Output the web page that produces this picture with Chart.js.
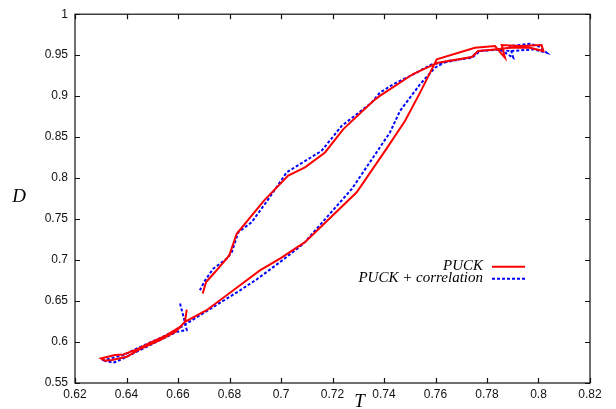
<!DOCTYPE html>
<html>
<head>
<meta charset="utf-8">
<script src="https://cdn.jsdelivr.net/npm/chart.js@4"></script>
<style>
  html, body { margin: 0; padding: 0; background: #fff; }
  #wrap { width: 616px; height: 409px; }
</style>
</head>
<body>
<div id="wrap"><canvas id="loopChart" width="616" height="409"></canvas></div>
<script>
// PUCK (red, solid) - path along the loop
const puckT = [0.6634, 0.6627, 0.6592, 0.6530, 0.6452, 0.6401, 0.6343, 0.6317, 0.6301, 0.6355,
  0.6388, 0.6440, 0.6491, 0.6556, 0.6608, 0.6627, 0.6711, 0.6841, 0.6918, 0.6996,
  0.7093, 0.7294, 0.7410, 0.7482, 0.7540, 0.7605, 0.7753, 0.7831, 0.7870, 0.7857,
  0.7928, 0.8012, 0.8019, 0.7967, 0.7889, 0.7831, 0.7766, 0.7741, 0.7610, 0.7579,
  0.7513, 0.7384, 0.7358, 0.7242, 0.7171, 0.7093, 0.7028, 0.6934, 0.6828, 0.6799,
  0.6744, 0.6709, 0.6696];
const puckD = [0.6396, 0.6246, 0.6130, 0.6023, 0.5913, 0.5820, 0.5780, 0.5771, 0.5800, 0.5841,
  0.5849, 0.5910, 0.5990, 0.6084, 0.6185, 0.6246, 0.6388, 0.6692, 0.6874, 0.7017,
  0.7218, 0.7827, 0.8360, 0.8699, 0.9043, 0.9449, 0.9590, 0.9611, 0.9468, 0.9623,
  0.9611, 0.9623, 0.9550, 0.9590, 0.9590, 0.9570, 0.9550, 0.9477, 0.9408, 0.9367,
  0.9270, 0.9003, 0.8942, 0.8598, 0.8313, 0.8131, 0.8030, 0.7726, 0.7321, 0.7057,
  0.6854, 0.6732, 0.6591];

// PUCK + correlation (blue, dotted)
const corrT = [0.6608, 0.6623, 0.6634, 0.6595, 0.6530, 0.6452, 0.6388, 0.6349, 0.6304, 0.6323,
  0.6388, 0.6452, 0.6530, 0.6592, 0.6698, 0.6841, 0.6906, 0.6996, 0.7087, 0.7275,
  0.7423, 0.7462, 0.7540, 0.7598, 0.7644, 0.7741, 0.7773, 0.7850, 0.7902, 0.7889,
  0.7967, 0.7999, 0.8032, 0.7980, 0.7889, 0.7838, 0.7766, 0.7741, 0.7644, 0.7585,
  0.7514, 0.7436, 0.7384, 0.7352, 0.7236, 0.7158, 0.7022, 0.6947, 0.6886, 0.6834,
  0.6809, 0.6789, 0.6737, 0.6705, 0.6685];
const corrD = [0.6469, 0.6290, 0.6145, 0.6124, 0.6023, 0.5901, 0.5800, 0.5747, 0.5780, 0.5788,
  0.5841, 0.5938, 0.6047, 0.6145, 0.6351, 0.6631, 0.6765, 0.6975, 0.7199, 0.7868,
  0.8556, 0.8820, 0.9145, 0.9347, 0.9428, 0.9468, 0.9550, 0.9570, 0.9468, 0.9611,
  0.9639, 0.9611, 0.9529, 0.9570, 0.9550, 0.9570, 0.9550, 0.9477, 0.9416, 0.9388,
  0.9267, 0.9145, 0.9043, 0.8921, 0.8638, 0.8334, 0.8070, 0.7726, 0.7462, 0.7340,
  0.7097, 0.7017, 0.6895, 0.6753, 0.6631];

const seriesNames = ["PUCK", "PUCK + correlation"];
const xTitle = "T";
const yTitle = "D";

function toPoints(xs, ys) {
  return xs.map((x, i) => ({ x: x, y: ys[i] }));
}

function fmt(v) {
  return Number(v.toFixed(2)).toString();
}

// gnuplot-like frame: full box, inward ticks, inline legend, upright axis titles
const framePlugin = {
  id: "frame",
  afterDraw(chart) {
    const ctx = chart.ctx;
    const area = chart.chartArea;
    const xs = chart.scales.x;
    const ys = chart.scales.y;
    const tick = 5;

    ctx.save();
    ctx.strokeStyle = "#111";
    ctx.lineWidth = 1.2;
    ctx.setLineDash([]);
    ctx.strokeRect(area.left, area.top, area.right - area.left, area.bottom - area.top);

    ctx.beginPath();
    xs.ticks.forEach(t => {
      const px = Math.round(xs.getPixelForValue(t.value)) + 0.5;
      ctx.moveTo(px, area.bottom); ctx.lineTo(px, area.bottom - tick);
      ctx.moveTo(px, area.top); ctx.lineTo(px, area.top + tick);
    });
    ys.ticks.forEach(t => {
      const py = Math.round(ys.getPixelForValue(t.value)) + 0.5;
      ctx.moveTo(area.left, py); ctx.lineTo(area.left + tick, py);
      ctx.moveTo(area.right, py); ctx.lineTo(area.right - tick, py);
    });
    ctx.stroke();

    // legend
    const textRight = area.right - 107;
    const lineL = area.right - 98;
    const lineR = area.right - 65;
    const rowY = [area.top + 252, area.top + 264];
    ctx.font = 'italic 15px "Liberation Serif", "DejaVu Serif", serif';
    ctx.fillStyle = "#000";
    ctx.textAlign = "right";
    ctx.textBaseline = "middle";
    chart.data.datasets.forEach((ds, i) => {
      ctx.fillText(ds.label, textRight, rowY[i]);
      ctx.beginPath();
      ctx.strokeStyle = ds.borderColor;
      ctx.lineWidth = ds.borderWidth;
      ctx.setLineDash(ds.borderDash || []);
      ctx.moveTo(lineL, rowY[i] + 0.5);
      ctx.lineTo(lineR, rowY[i] + 0.5);
      ctx.stroke();
    });
    ctx.setLineDash([]);

    // axis titles
    ctx.font = 'italic 19px "Liberation Serif", "DejaVu Serif", serif';
    ctx.textAlign = "center";
    ctx.textBaseline = "middle";
    ctx.fillText(yTitle, 19, (area.top + area.bottom) / 2 - 2);
    ctx.textBaseline = "alphabetic";
    ctx.fillText(xTitle, xs.getPixelForValue(0.7305), chart.height - 2);
    ctx.restore();
  }
};

const tickFont = { family: '"Liberation Sans", Arial, sans-serif', size: 12 };

new Chart(document.getElementById("loopChart").getContext("2d"), {
  type: "scatter",
  data: {
    datasets: [
      {
        label: seriesNames[0],
        data: toPoints(puckT, puckD),
        showLine: true,
        borderColor: "#ff0000",
        backgroundColor: "#ff0000",
        borderWidth: 2,
        pointRadius: 0,
        tension: 0
      },
      {
        label: seriesNames[1],
        data: toPoints(corrT, corrD),
        showLine: true,
        borderColor: "#0000ff",
        backgroundColor: "#0000ff",
        borderWidth: 2,
        borderDash: [3, 2],
        pointRadius: 0,
        tension: 0
      }
    ]
  },
  options: {
    responsive: false,
    animation: false,
    layout: { padding: { left: 0, right: 26, top: 13, bottom: 0 } },
    plugins: {
      legend: { display: false },
      tooltip: { enabled: false }
    },
    scales: {
      x: {
        type: "linear",
        min: 0.62,
        max: 0.82,
        grid: { display: false, drawTicks: false },
        border: { display: false },
        ticks: { stepSize: 0.02, callback: fmt, font: tickFont, color: "#111", padding: 4, maxRotation: 0 },
        afterFit(scale) { scale.height = 26; }
      },
      y: {
        type: "linear",
        min: 0.55,
        max: 1,
        grid: { display: false, drawTicks: false },
        border: { display: false },
        ticks: { stepSize: 0.05, callback: fmt, font: tickFont, color: "#111", padding: 7 },
        afterFit(scale) { scale.width = 75; }
      }
    }
  },
  plugins: [framePlugin]
});
</script>
</body>
</html>
